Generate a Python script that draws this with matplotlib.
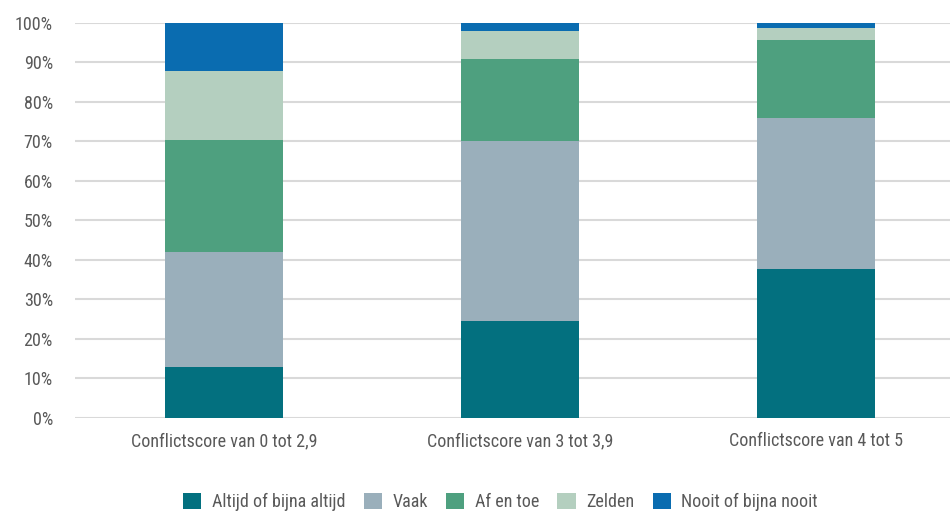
import matplotlib
matplotlib.use("Agg")
import matplotlib.pyplot as plt
import numpy as np

categories = ["Conflictscore van 0 tot 2,9", "Conflictscore van 3 tot 3,9", "Conflictscore van 4 tot 5"]
series_names = ["Altijd of bijna altijd", "Vaak", "Af en toe", "Zelden", "Nooit of bijna nooit"]
altijd = [13.0, 24.6, 37.8]
vaak = [29.1, 45.4, 38.0]
af_en_toe = [28.1, 20.7, 19.8]
zelden = [17.5, 7.2, 3.1]
nooit = [12.3, 2.1, 1.3]
colors = ["#03707F", "#9AAFBB", "#4EA07F", "#B4CFBF", "#0A6CB0"]
y_ticks = [0, 10, 20, 30, 40, 50, 60, 70, 80, 90, 100]

plt.rcParams["font.family"] = ["Liberation Sans Narrow", "Roboto Condensed", "DejaVu Sans"]
txt = "#595959"

fig = plt.figure(figsize=(9.5, 5.16), dpi=100)
ax = fig.add_axes([75 / 950, 98 / 516, 875 / 950, 395.3 / 516])

x = np.arange(len(categories))
bottom = np.zeros(len(categories))
for name, vals, c in zip(series_names, [altijd, vaak, af_en_toe, zelden, nooit], colors):
    ax.bar(x, vals, width=0.40, bottom=bottom, color=c, label=name, zorder=3)
    bottom += np.array(vals)

ax.set_xlim(-0.503, 2.453)
ax.set_ylim(0, 100)
ax.set_yticks(y_ticks)
ax.set_yticklabels([f"{t}%" for t in y_ticks])
ax.set_xticks(x)
ax.set_xticklabels(categories)
ax.tick_params(axis="y", length=0, pad=16, labelsize=13, labelcolor=txt)
ax.tick_params(axis="x", length=0, pad=10, labelsize=13, labelcolor=txt)
ax.grid(axis="y", color="#D9D9D9", linewidth=1.5, zorder=0)
for s in ["top", "right", "left", "bottom"]:
    ax.spines[s].set_visible(False)

leg = fig.legend(loc="center", bbox_to_anchor=(0.527, 1 - 502 / 516), ncol=5, frameon=False,
                 fontsize=13, handlelength=1.0, handleheight=1.0, handletextpad=0.6,
                 columnspacing=1.0, labelcolor=txt)

fig.savefig("out.png", dpi=100)
